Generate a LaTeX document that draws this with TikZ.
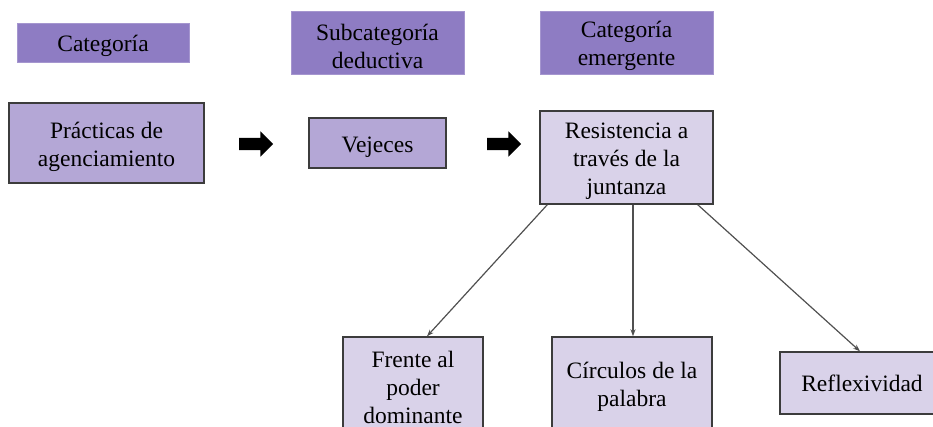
\documentclass[tikz,border=0pt]{standalone}
\usepackage{fontspec}
\setmainfont{Liberation Serif}
\usepackage{xcolor}
\usepackage{tikz}
\usetikzlibrary{arrows.meta,calc,positioning}
\usetikzlibrary{shapes.arrows}
\definecolor{headpurple}{HTML}{8E7CC3}
\definecolor{midpurple}{HTML}{B4A7D6}
\definecolor{lightpurple}{HTML}{D9D2E9}
\definecolor{boxline}{HTML}{3C3C3C}
\definecolor{linkgray}{HTML}{505050}
\newcommand{\boxspacer}{\rule{0pt}{24pt}}

\begin{document}
\begin{tikzpicture}[
    x=1pt, y=-1pt,
    font=\fontsize{23.5}{28}\selectfont,
    header/.style={rectangle, fill=headpurple, draw=headpurple!80!white, line width=0.8pt, align=center, inner sep=0},
    midbox/.style={rectangle, fill=midpurple, draw=boxline, line width=1.4pt, align=center, inner sep=0},
    lightbox/.style={rectangle, fill=lightpurple, draw=boxline, line width=1.4pt, align=center, inner sep=0},
    blockarrow/.style={single arrow, fill=black, draw=none, minimum height=34pt, inner xsep=0, inner ysep=6pt, single arrow head extend=6.5pt, single arrow tip angle=90},
    link/.style={draw=linkgray, line width=1.2pt, -{Stealth[length=7pt, width=5pt]}}]
\useasboundingbox (0,0) rectangle (933,427);
\clip (0,0) rectangle (933,427);

% headers
\node[header, minimum width=172pt, minimum height=39pt] (cat) at (103,42.5) {\boxspacer Categoría};
\node[header, minimum width=173pt, minimum height=63pt] (subcat) at (377.5,42.5) {\boxspacer Subcategoría\\deductiva};
\node[header, minimum width=173pt, minimum height=63pt] (catem) at (626.5,42.5) {\boxspacer Categoría\\emergente};

% first row
\node[midbox, minimum width=195pt, minimum height=80pt] (prac) at (106.5,143) {\boxspacer Prácticas de\\agenciamiento};
\node[midbox, minimum width=137pt, minimum height=50pt] (vej) at (377.5,143) {\boxspacer Vejeces};
\node[lightbox, minimum width=173pt, minimum height=93pt] (resis) at (626.5,157.5) {\boxspacer Resistencia a\\través de la\\juntanza};

\node[blockarrow] (arrA) at (253,144) {};
\node[blockarrow] (arrB) at (501,144) {};

% second row
\node[lightbox, minimum width=140pt, minimum height=100pt] (frente) at (413,387) {Frente al\\poder\\dominante};
\node[lightbox, minimum width=160pt, minimum height=100pt] (circ) at (632,387) {Círculos de la\\palabra};
\node[lightbox, minimum width=164pt, minimum height=62pt] (refl) at (862,383) {Reflexividad};

\path[link] ([xshift=8pt]resis.south west) -- ([xshift=14pt]frente.north);
\path[link] ([xshift=6.5pt]resis.south) -- ([xshift=1pt]circ.north);
\path[link] ([xshift=-16pt]resis.south east) -- ([xshift=-2pt]refl.north);

\end{tikzpicture}
\end{document}
